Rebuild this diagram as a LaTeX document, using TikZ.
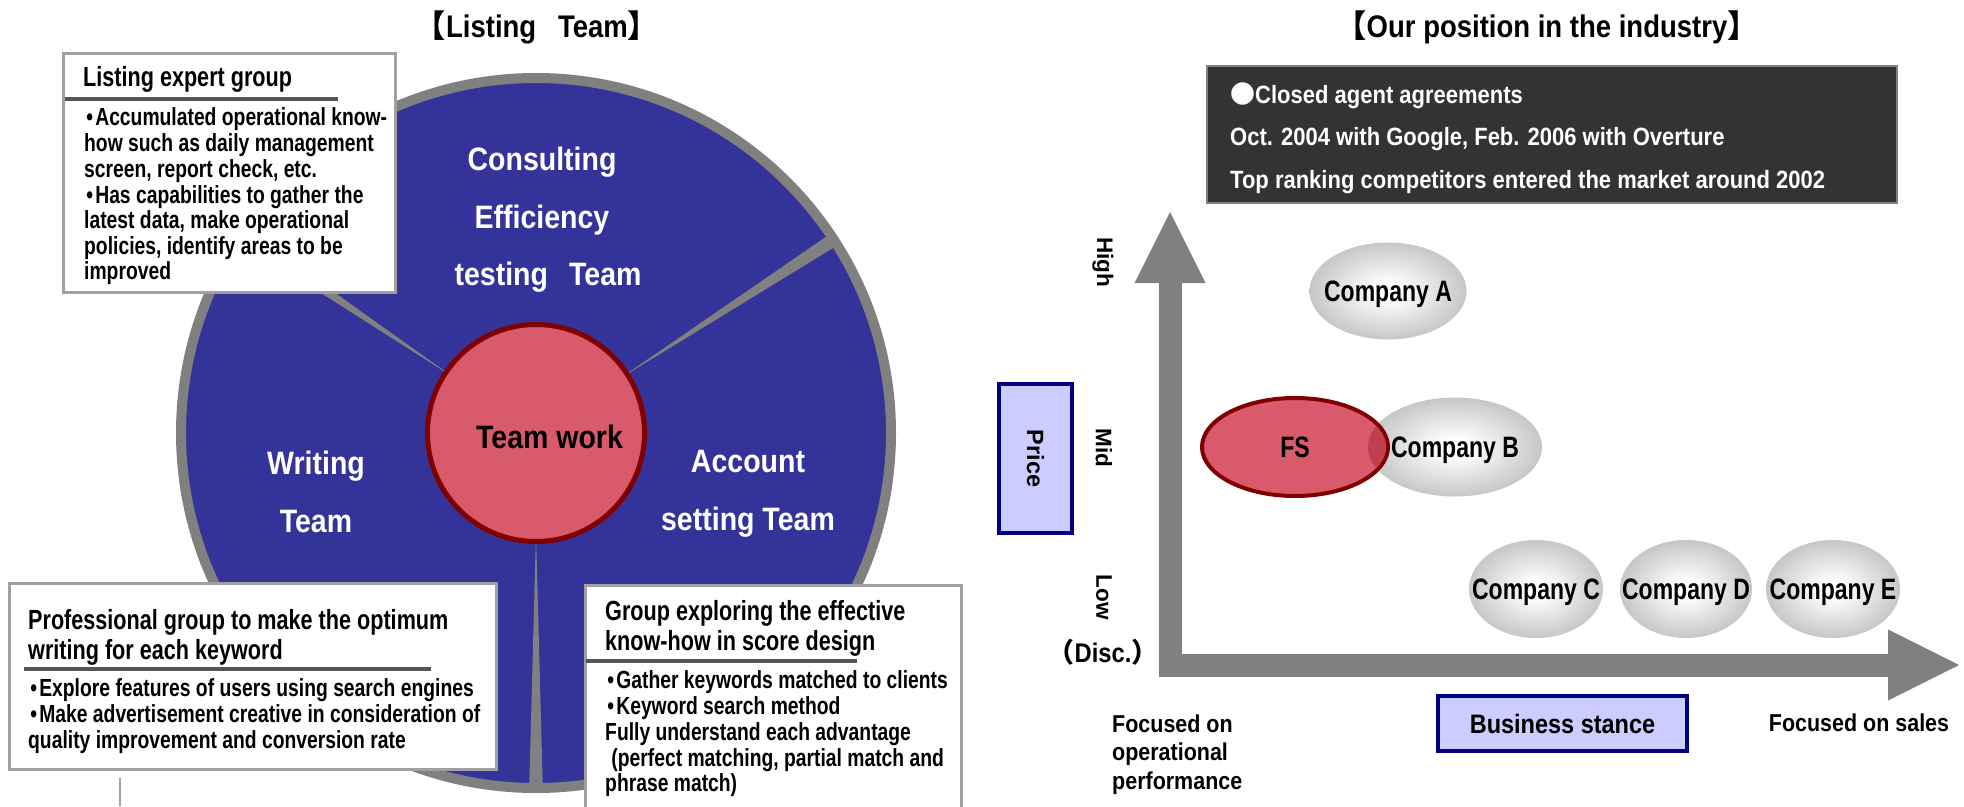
\documentclass[tikz,border=0pt]{standalone}
\usepackage{fontspec}
\setmainfont{Liberation Sans}
\newfontfamily\narrowfont{Liberation Sans}[FakeStretch=0.78]
\newfontfamily\midfont{Liberation Sans}[FakeStretch=0.88]
\newfontfamily\cjk{Noto Sans CJK JP}
\usepackage{tikz}
\usetikzlibrary{shapes.geometric}
\usetikzlibrary{arrows.meta}

\definecolor{teamblue}{RGB}{51,51,153}
\definecolor{ringgray}{RGB}{128,128,128}
\definecolor{fsred}{RGB}{217,91,107}
\definecolor{fsdark}{RGB}{128,0,0}
\definecolor{fsover}{RGB}{192,64,82}
\definecolor{panelgray}{RGB}{160,160,160}
\definecolor{rulegray}{RGB}{85,85,85}
\definecolor{notebg}{RGB}{51,51,51}
\definecolor{stancefill}{RGB}{204,204,255}
\definecolor{stanceline}{RGB}{0,0,128}
\definecolor{bubmid}{RGB}{196,196,196}
\definecolor{bubedge}{RGB}{158,158,158}
\pgfdeclareradialshading{bubbleshade}{\pgfpoint{0bp}{0bp}}{color(0bp)=(white); color(4bp)=(white); color(26bp)=(bubmid); color(50bp)=(bubedge)}

\newcommand{\bul}{\makebox[0.45em]{•}}

\begin{document}
\begin{tikzpicture}[x=1pt,y=-1pt,
  title/.style={font=\midfont\fontsize{31.25}{34}\selectfont\bfseries, inner sep=0pt, anchor=base},
  teamlabel/.style={font=\midfont\fontsize{32.4}{36}\selectfont\bfseries, text=white, inner sep=0pt, anchor=base},
  panel/.style={draw=panelgray, line width=3pt, fill=white},
  paneltitle/.style={font=\narrowfont\fontsize{27.7}{28}\selectfont\bfseries, inner sep=0pt, align=left, anchor=north west},
  panelbody/.style={font=\narrowfont\fontsize{24.75}{25.6}\selectfont\bfseries, inner sep=0pt, align=left, anchor=north west},
  panelrule/.style={draw=rulegray, line width=4pt},
  notetext/.style={font=\midfont\fontsize{25}{42.5}\selectfont\bfseries, text=white, inner sep=0pt, align=left, anchor=north west},
  axis/.style={draw=ringgray, line width=23pt, -{Triangle[length=71pt, width=71pt, line width=0pt]}},
  axislabel/.style={font=\fontsize{22.5}{28.5}\selectfont\bfseries, inner sep=0pt},
  sidelabel/.style={font=\midfont\fontsize{24.4}{28.5}\selectfont\bfseries, inner sep=0pt},
  stance/.style={fill=stancefill, draw=stanceline, line width=4pt, inner sep=0pt},
  bubble/.style={ellipse, shade, shading=bubbleshade, inner sep=0pt, text depth=0pt, font=\narrowfont\fontsize{29.5}{32}\selectfont\bfseries},
  bubtext/.style={inner sep=0pt, text depth=0pt, font=\narrowfont\fontsize{29.5}{32}\selectfont\bfseries}]

\useasboundingbox (0,0) rectangle (1964,806);
\clip (0,0) rectangle (1964,806);

%Listing Team
\node[title] (ltitle) at (537,37) {{\cjk 【}Listing\hspace{0.7em}Team{\cjk 】}};

\coordinate (ctr) at (536,433);
\draw[ringgray, line width=10pt, fill=teamblue] (ctr) circle [radius=355pt];
\foreach \a in {-146,-33,90}
  \fill[ringgray] ([shift={(\a:100)}]ctr) -- ([shift={(\a+1.1:358)}]ctr) -- ([shift={(\a-1.1:358)}]ctr) -- cycle;
\node[circle, fill=fsred, draw=fsdark, line width=5pt, minimum size=217pt, inner sep=0pt] (work) at (ctr) {};
\node[font=\midfont\fontsize{32.4}{36}\selectfont\bfseries, inner sep=0pt, anchor=base] (worklbl) at (549.5,448) {Team work};

\node[teamlabel] (cons1) at (542,170) {Consulting};
\node[teamlabel] (cons2) at (542,228) {Efficiency};
\node[teamlabel] (cons3) at (548,285) {testing\hspace{0.65em}Team};
\node[teamlabel] (writ1) at (316,474) {Writing};
\node[teamlabel] (writ2) at (316,532) {Team};
\node[teamlabel] (acct1) at (748,472) {Account};
\node[teamlabel] (acct2) at (748,530) {setting Team};

%expert group
\draw[panel] (63,53) rectangle (395,292);
\node[paneltitle, anchor=base west] (expertT) at (83,86) {Listing expert group};
\draw[panelrule] (65,99) -- (338,99);
\node[panelbody] (expertB) at (84,107.1) {\strut\bul Accumulated operational know-\\how such as daily management\\screen, report check, etc.\\\bul Has capabilities to gather the\\latest data, make operational\\policies, identify areas to be\\improved};

%writing group
\draw[panel] (9,583) rectangle (496,769);
\node[paneltitle] (proT) at (28,609.4) {\strut Professional group to make the optimum\\writing for each keyword};
\draw[panelrule] (24,669) -- (431,669);
\node[panelbody] (proB) at (28,678.1) {\strut\bul Explore features of users using search engines\\\bul Make advertisement creative in consideration of\\quality improvement and conversion rate};
\draw[panelgray, line width=1.5pt] (120,778) -- (120,806);

%account group
\draw[panel] (585,585) rectangle (961,830);
\node[paneltitle] (grpT) at (605,600.4) {\strut Group exploring the effective\\know-how in score design};
\draw[panelrule] (586,661) -- (857,661);
\node[panelbody] (grpB) at (605,670.1) {\strut\bul Gather keywords matched to clients\\\bul Keyword search method\\Fully understand each advantage\\\hspace{0.25em}(perfect matching, partial match and\\phrase match)};

%Our position
\node[title] (rtitle) at (1547,37) {{\cjk 【}Our position in the industry{\cjk 】}};
\draw[fill=notebg, draw=ringgray, line width=1.5pt] (1207,66) rectangle (1897,203);
\node[notetext] (note) at (1230,73.25) {\strut{\cjk ●}Closed agent agreements\\Oct. 2004 with Google, Feb. 2006 with Overture\\Top ranking competitors entered the market around 2002};

%axes
\coordinate (org) at (1170,677);
\coordinate (ytip) at (1170,212);
\coordinate (xorg) at (1159,665);
\coordinate (xtip) at (1959,665);
\draw[axis] (org) -- (ytip);
\draw[axis] (xorg) -- (xtip);

\node[axislabel, rotate=-90] (high) at (1103,262) {High};
\node[axislabel, rotate=-90] (mid) at (1104,448) {Mid};
\node[axislabel, rotate=-90] (low) at (1104,597) {Low};
\node[sidelabel, font=\midfont\fontsize{27}{30}\selectfont\bfseries, anchor=base] (disc) at (1103,662) {{\cjk （}Disc.{\cjk ）}};
\node[stance, rotate=-90, minimum width=149pt, minimum height=73pt, font=\fontsize{23.5}{28}\selectfont\bfseries] (price) at (1035.5,458.5) {Price};
\node[stance, minimum width=249pt, minimum height=55pt, font=\midfont\fontsize{26.7}{30}\selectfont\bfseries] (bstance) at (1562.5,723.5) {Business stance};
\node[sidelabel, align=left, anchor=north west] (opfocus) at (1112,712) {\strut Focused on\\operational\\performance};
\node[sidelabel, anchor=base] (salesfocus) at (1859,731) {Focused on sales};

%companies
\node[bubble, minimum width=157pt, minimum height=97pt] (compA) at (1388,291) {\makebox[0pt]{Company A}};
\node[bubble, minimum width=174pt, minimum height=99pt] (compB) at (1455,447) {};
\node[ellipse, fill=fsred, draw=fsdark, line width=4pt, minimum width=186pt, minimum height=98pt, inner sep=0pt, text depth=0pt, font=\narrowfont\fontsize{29.5}{32}\selectfont\bfseries] (fs) at (1295,447) {FS};
\begin{scope}
  \clip (fs.center) ellipse [x radius=91pt, y radius=47pt];
  \fill[fsover] (compB.center) ellipse [x radius=87pt, y radius=49.5pt];
\end{scope}
\node[bubtext] (compBlbl) at (compB.center) {Company B};
\node[bubble, minimum width=134pt, minimum height=98pt] (compC) at (1536,589) {\makebox[0pt]{Company C}};
\node[bubble, minimum width=132pt, minimum height=98pt] (compD) at (1686,589) {\makebox[0pt]{Company D}};
\node[bubble, minimum width=134pt, minimum height=98pt] (compE) at (1833,589) {\makebox[0pt]{Company E}};

\end{tikzpicture}
\end{document}
